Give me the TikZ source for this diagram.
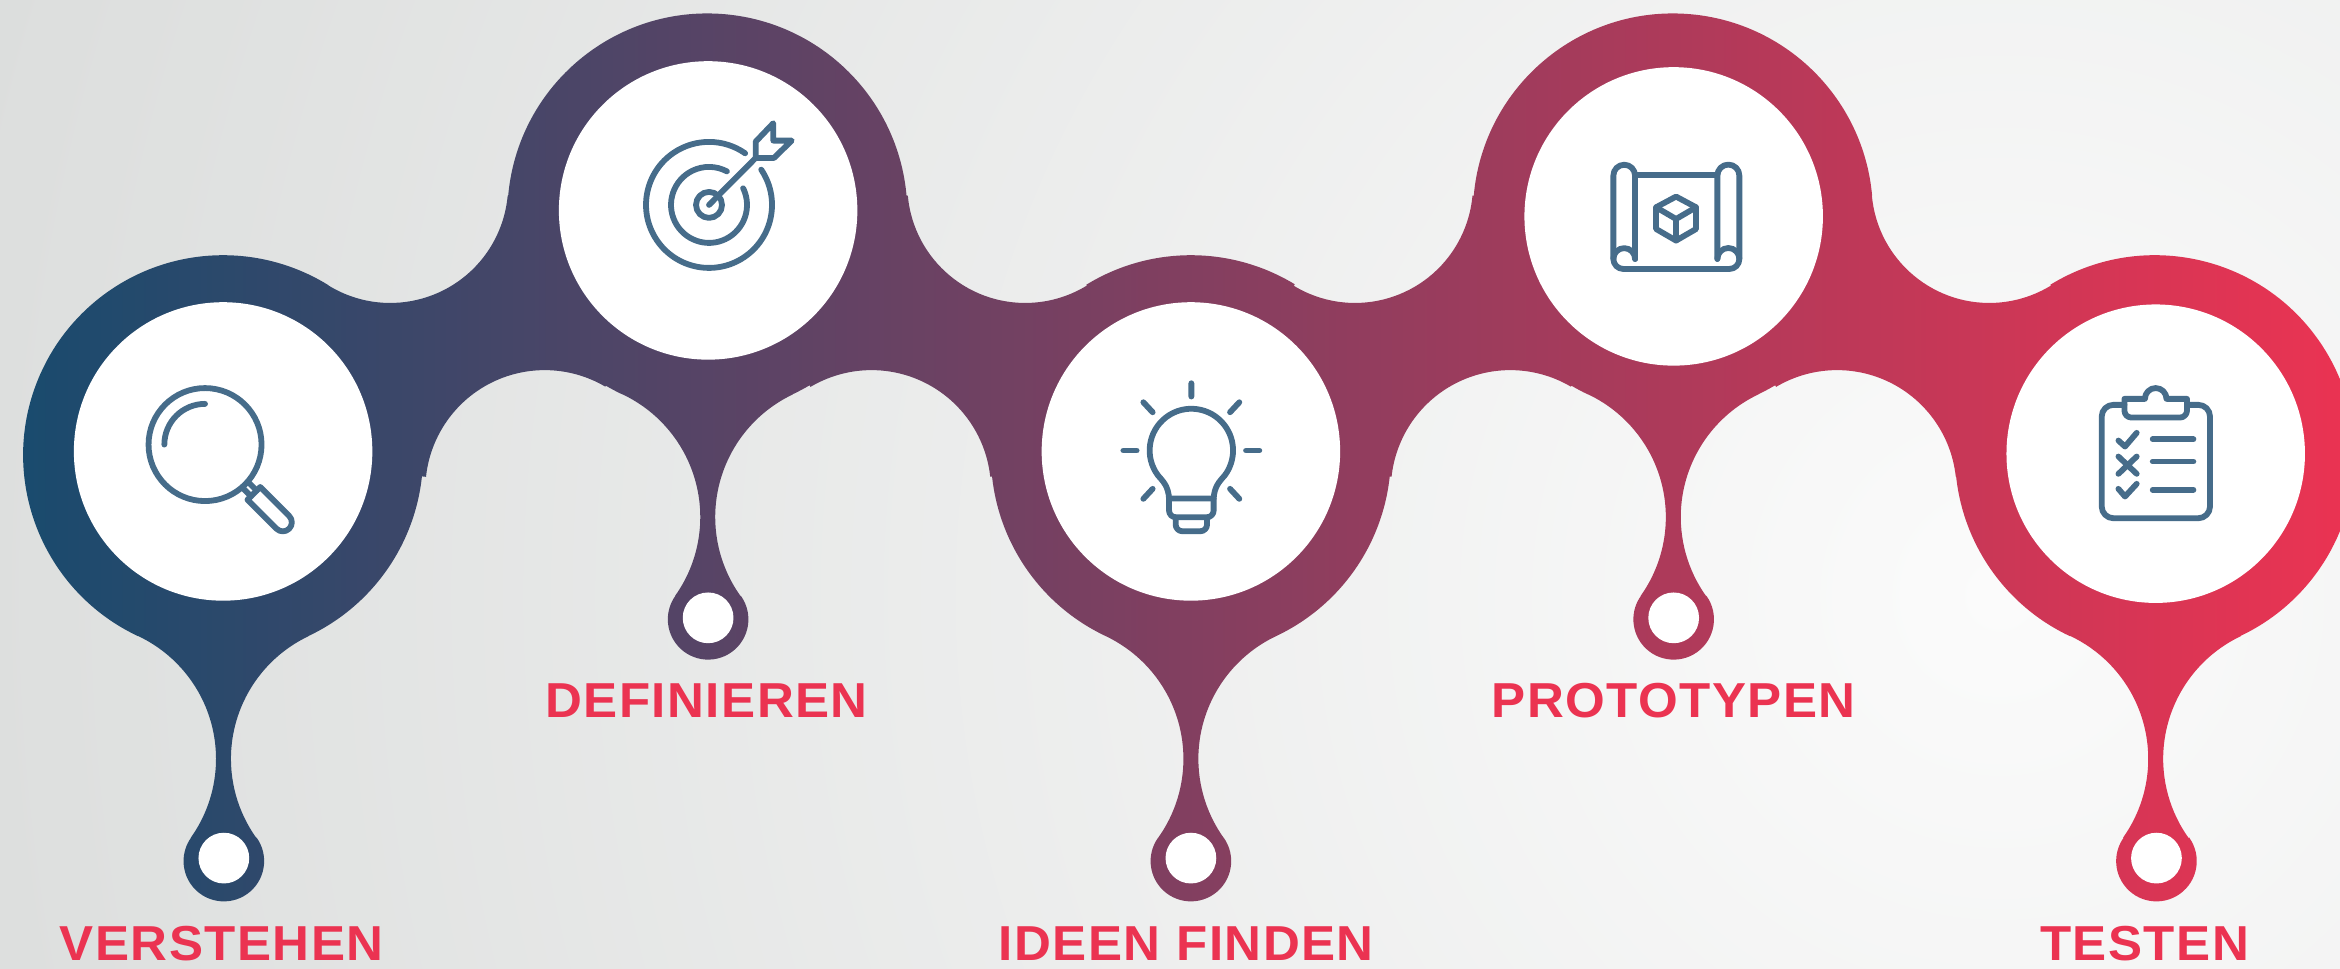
\documentclass[tikz,border=0pt]{standalone}
\usepackage{fontspec}
\newfontfamily\labelfont[FakeStretch=1.04,LetterSpace=3]{Liberation Sans Bold}
\definecolor{iconblue}{HTML}{466C8A}
\definecolor{labelred}{HTML}{EB3351}
\definecolor{blobleft}{HTML}{174B6E}
\definecolor{blobright}{HTML}{EC3352}
\definecolor{bgouter}{HTML}{DCDEDD}
\definecolor{bginner}{HTML}{FBFBFB}
% circles of the silhouette: name, x, y (up), radius
\newcommand\defcirc[4]{%
  \expandafter\def\csname cx#1\endcsname{#2}%
  \expandafter\def\csname cy#1\endcsname{#3}%
  \expandafter\def\csname cr#1\endcsname{#4}}
\defcirc{Ca}{149.5}{344}{134}\defcirc{Cb}{474}{506}{134}\defcirc{Cc}{798}{344}{134}
\defcirc{Cd}{1121}{506}{134}\defcirc{Ce}{1444}{344}{134}
\defcirc{Uab}{261.5}{525}{79}\defcirc{Ubc}{687}{525}{79}\defcirc{Ucd}{908}{525}{79}\defcirc{Ude}{1333}{525}{79}
\defcirc{Lab}{365}{321}{80}\defcirc{Lbc}{584}{321}{80}\defcirc{Lcd}{1012}{321}{80}\defcirc{Lde}{1231}{321}{80}
\defcirc{Sla}{53.75}{140.5}{91}\defcirc{Sra}{245.75}{140.5}{91}\defcirc{Ba}{150}{72}{27}
\defcirc{Slb}{378.25}{302.5}{91}\defcirc{Srb}{570.25}{302.5}{91}\defcirc{Bb}{474.5}{234}{27}
\defcirc{Slc}{702}{140.5}{91}\defcirc{Src}{894}{140.5}{91}\defcirc{Bc}{798}{72}{27}
\defcirc{Sld}{1025.25}{302.5}{91}\defcirc{Srd}{1217.25}{302.5}{91}\defcirc{Bd}{1121.5}{234}{27}
\defcirc{Sle}{1348.5}{140.5}{91}\defcirc{Sre}{1540.5}{140.5}{91}\defcirc{Be}{1445}{72}{27}
\newcommand\vcx[1]{\csname cx#1\endcsname}
\newcommand\vcy[1]{\csname cy#1\endcsname}
\newcommand\vcr[1]{\csname cr#1\endcsname}
\def\blobpath{}
\def\blobsep{}
% arc on circle #1 from its tangent towards #2 to its tangent towards #3; #4=1 convex, -1 concave
\newcommand\seg[4]{%
  \pgfmathsetmacro\sa{atan2(\vcy{#2}-\vcy{#1},\vcx{#2}-\vcx{#1})}%
  \pgfmathsetmacro\ea{atan2(\vcy{#3}-\vcy{#1},\vcx{#3}-\vcx{#1})}%
  \pgfmathsetmacro\da{#4>0 ? -Mod(\sa-\ea,360) : Mod(\ea-\sa,360)}%
  \pgfmathsetmacro\sx{\vcx{#1}+\vcr{#1}*cos(\sa)}%
  \pgfmathsetmacro\sy{\vcy{#1}+\vcr{#1}*sin(\sa)}%
  \xdef\blobpath{\blobpath\blobsep (\sx,\sy) arc[start angle=\sa,delta angle=\da,radius=\vcr{#1}]}%
  \gdef\blobsep{ -- }}
\seg{Ca}{Sla}{Uab}{1}\seg{Uab}{Ca}{Cb}{-1}\seg{Cb}{Uab}{Ubc}{1}\seg{Ubc}{Cb}{Cc}{-1}
\seg{Cc}{Ubc}{Ucd}{1}\seg{Ucd}{Cc}{Cd}{-1}\seg{Cd}{Ucd}{Ude}{1}\seg{Ude}{Cd}{Ce}{-1}
\seg{Ce}{Ude}{Sre}{1}\seg{Sre}{Ce}{Be}{-1}\seg{Be}{Sre}{Sle}{1}\seg{Sle}{Be}{Ce}{-1}
\seg{Ce}{Sle}{Lde}{1}\seg{Lde}{Ce}{Cd}{-1}\seg{Cd}{Lde}{Srd}{1}\seg{Srd}{Cd}{Bd}{-1}
\seg{Bd}{Srd}{Sld}{1}\seg{Sld}{Bd}{Cd}{-1}\seg{Cd}{Sld}{Lcd}{1}\seg{Lcd}{Cd}{Cc}{-1}
\seg{Cc}{Lcd}{Src}{1}\seg{Src}{Cc}{Bc}{-1}\seg{Bc}{Src}{Slc}{1}\seg{Slc}{Bc}{Cc}{-1}
\seg{Cc}{Slc}{Lbc}{1}\seg{Lbc}{Cc}{Cb}{-1}\seg{Cb}{Lbc}{Srb}{1}\seg{Srb}{Cb}{Bb}{-1}
\seg{Bb}{Srb}{Slb}{1}\seg{Slb}{Bb}{Cb}{-1}\seg{Cb}{Slb}{Lab}{1}\seg{Lab}{Cb}{Ca}{-1}
\seg{Ca}{Lab}{Sra}{1}\seg{Sra}{Ca}{Ba}{-1}\seg{Ba}{Sra}{Sla}{1}\seg{Sla}{Ba}{Ca}{-1}
\tikzset{
  big disc/.style={circle,fill=white,inner sep=0pt,minimum size=90pt},
  small disc/.style={circle,fill=white,inner sep=0pt,minimum size=15.3pt},
  phase label/.style={anchor=base,text=labelred,inner sep=0pt,font=\labelfont\fontsize{14.8}{16}\selectfont},
  iconline/.style={draw=iconblue,line width=1.75pt,line cap=round,line join=round},
}
\begin{document}
\begin{tikzpicture}[x=0.45pt,y=0.45pt]
\useasboundingbox (0,0.36) rectangle (1568,649);
\clip (0,0.36) rectangle (1568,649);
\fill[bgouter] (0,0.36) rectangle (1568,649);
\shade[inner color=bginner,outer color=bgouter] (1340,250) circle[radius=1400];
\shade[left color=blobleft,right color=blobright] \blobpath -- cycle;
% discs
\node[big disc] (wa) at (149.5,346.5) {};
\node[big disc] (wb) at (474.5,508) {};
\node[big disc] (wc) at (798,346.5) {};
\node[big disc] (wd) at (1121.5,504) {};
\node[big disc] (we) at (1444.5,345) {};
\node[small disc] (sa) at (150,74) {};
\node[small disc] (sb) at (474.5,235) {};
\node[small disc] (sc) at (798,74) {};
\node[small disc] (sd) at (1121.5,235) {};
\node[small disc] (se) at (1445,74) {};
% labels
\node[phase label] (la) at (148.5,5.5) {VERSTEHEN};
\node[phase label] (lb) at (473.5,168) {DEFINIEREN};
\node[phase label] (lc) at (795,5.5) {IDEEN FINDEN};
\node[phase label] (ld) at (1121.5,168) {PROTOTYPEN};
\node[phase label] (le) at (1437,5.5) {TESTEN};
% magnifier
\begin{scope}[shift={(137.4,351.1)},scale=0.67,iconline]
  \draw (0,0) circle[radius=56.5];
  \draw (-40.7,0) arc[start angle=180,end angle=90,radius=40.7];
  \begin{scope}[rotate=-45]
    \draw (58,4) -- (69,4) (58,-4) -- (69,-4);
    \draw (69,-9) -- (110,-9) arc[start angle=-90,end angle=90,radius=9] -- (69,9) -- cycle;
  \end{scope}
\end{scope}
% target
\begin{scope}[shift={(475.1,511.7)},scale=0.67,iconline]
  \draw (34:63) arc[start angle=34,end angle=-305,radius=63];
  \draw (26:38) arc[start angle=26,end angle=-298,radius=38];
  \draw (0,0) circle[radius=13];
  \draw (0,0) -- (46.7,47);
  \draw (46.7,47) -- (46.7,63.3) -- (64.3,81.7) -- (64.3,64.3) -- (82.7,64.3) -- (65,47) -- cycle;
\end{scope}
% light bulb
\begin{scope}[shift={(798.3,347.1)},scale=0.67,iconline]
  \draw (-22.3,-48) .. controls (-23,-36) and (-28,-31) .. (-33.3,-25) arc[start angle=217,end angle=-37,radius=41.7] .. controls (28,-31) and (23,-36) .. (22.3,-48) -- cycle;
  \draw (-22.3,-48) -- (-22.3,-60) arc[start angle=180,end angle=270,radius=6.7] -- (15.6,-66.7) arc[start angle=270,end angle=360,radius=6.7] -- (22.3,-48);
  \draw (-15.7,-67) -- (-15.7,-74) arc[start angle=180,end angle=270,radius=6.7] -- (9,-80.7) arc[start angle=270,end angle=360,radius=6.7] -- (15.7,-67);
  \draw (0,67.3) -- (0,54) (-48,48.3) -- (-38.7,38.3) (48,48.3) -- (38.7,38.3);
  \draw (-68,0) -- (-54.7,0) (68,0) -- (54.7,0);
  \draw (-48,-48.3) -- (-38.7,-38.3) (48,-48.3) -- (38.7,-38.3);
\end{scope}
% plan
\begin{scope}[shift={(1123.1,503.4)},scale=0.67,iconline]
  \draw (-41,-41.7) -- (-41,41.7) arc[start angle=0,end angle=180,radius=10.85] -- (-62.7,-41.7) arc[start angle=180,end angle=270,radius=10] -- (53.3,-51.7) arc[start angle=270,end angle=360,radius=10] -- (63.3,41.7) arc[start angle=0,end angle=180,radius=11] -- (41.3,-41.7);
  \draw (-41,-41.7) arc[start angle=0,end angle=180,radius=10.85];
  \draw (63.3,-41.7) arc[start angle=0,end angle=180,radius=11];
  \draw (-41,42) -- (41.3,42);
  \draw (0,20.7) -- (20,10) -- (20,-11.7) -- (0,-23.3) -- (-20,-11.7) -- (-20,10) -- cycle;
  \draw (-20,10) -- (0,-1.7) -- (20,10) (0,-1.7) -- (0,-23.3);
\end{scope}
% clipboard
\begin{scope}[shift={(1444.5,340.4)},scale=0.67,iconline]
  \draw (-31.3,55.7) -- (-42.3,55.7) arc[start angle=90,end angle=180,radius=11.7] -- (-54,-46) arc[start angle=180,end angle=270,radius=11.7] -- (42.6,-57.7) arc[start angle=270,end angle=360,radius=11.7] -- (54.3,44) arc[start angle=0,end angle=90,radius=11.7] -- (31.3,55.7);
  \draw (-10.8,61.7) arc[start angle=180,end angle=0,radius=10.8] -- (31.3,61.7) -- (31.3,50) arc[start angle=0,end angle=-90,radius=7] -- (-24.3,43) arc[start angle=270,end angle=180,radius=7] -- (-31.3,61.7) -- cycle;
  \draw (-37.3,20) -- (-30.7,14) -- (-19,27.7);
  \draw (-37.3,4) -- (-19,-13.3) (-19,4) -- (-37.3,-13.3);
  \draw (-37.3,-28.3) -- (-30.7,-36) -- (-19,-23.3);
  \draw (-3,21.3) -- (37.7,21.3) (-3,-1) -- (37.7,-1) (-3,-29.3) -- (37.7,-29.3);
\end{scope}
\end{tikzpicture}
\end{document}
